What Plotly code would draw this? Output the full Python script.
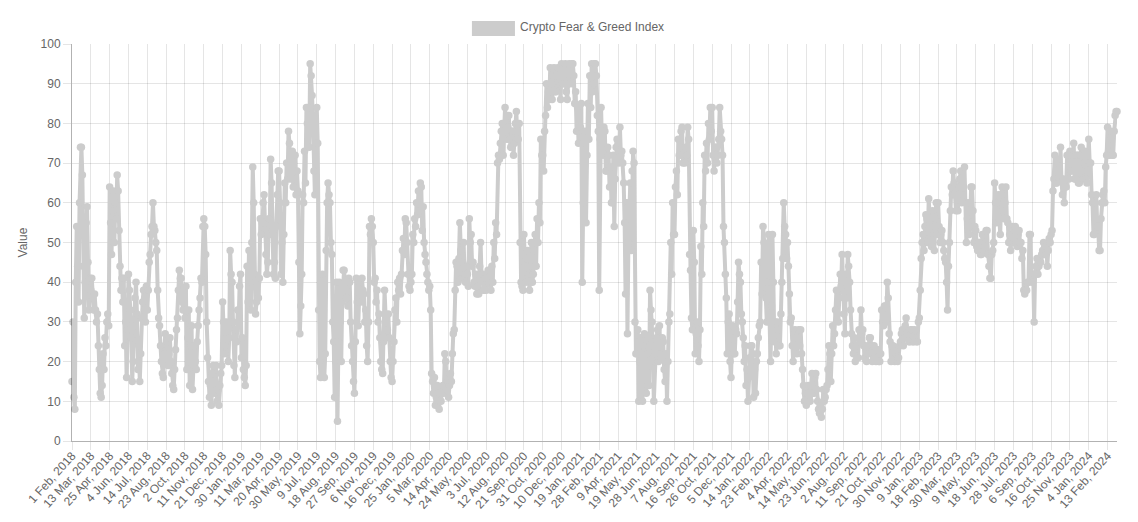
import plotly.graph_objects as go

# tick labels, one every 40 data points
tick_labels = [
    '1 Feb, 2018', '13 Mar, 2018', '25 Apr, 2018', '4 Jun, 2018', '14 Jul, 2018', '23 Aug, 2018',
    '2 Oct, 2018', '11 Nov, 2018', '21 Dec, 2018', '30 Jan, 2019', '11 Mar, 2019', '20 Apr, 2019',
    '30 May, 2019', '9 Jul, 2019', '18 Aug, 2019', '27 Sep, 2019', '6 Nov, 2019', '16 Dec, 2019',
    '25 Jan, 2020', '5 Mar, 2020', '14 Apr, 2020', '24 May, 2020', '3 Jul, 2020', '12 Aug, 2020',
    '21 Sep, 2020', '31 Oct, 2020', '10 Dec, 2020', '19 Jan, 2021', '28 Feb, 2021', '9 Apr, 2021',
    '19 May, 2021', '28 Jun, 2021', '7 Aug, 2021', '16 Sep, 2021', '26 Oct, 2021', '5 Dec, 2021',
    '14 Jan, 2022', '23 Feb, 2022', '4 Apr, 2022', '14 May, 2022', '23 Jun, 2022', '2 Aug, 2022',
    '11 Sep, 2022', '21 Oct, 2022', '30 Nov, 2022', '9 Jan, 2023', '18 Feb, 2023', '30 Mar, 2023',
    '9 May, 2023', '18 Jun, 2023', '28 Jul, 2023', '6 Sep, 2023', '16 Oct, 2023', '25 Nov, 2023',
    '4 Jan, 2024', '13 Feb, 2024',
]

# index values, one row per tick interval
values = [
    15, 30, 11, 8, 40, 54, 44, 35, 60, 74, 74, 67, 44, 31, 40, 55, 59, 45, 33, 41,
    38, 41, 36, 33, 37, 33, 30, 32, 24, 18, 12, 11, 14, 22, 18, 26, 24, 30, 32, 29,
    64, 55, 47, 58, 63, 50, 60, 56, 67, 63, 53, 44, 38, 41, 35, 41, 24, 30, 16, 28,
    42, 38, 33, 26, 15, 20, 29, 36, 40, 32, 18, 24, 15, 22, 31, 35, 38, 33, 30, 39,
    33, 38, 45, 47, 52, 54, 60, 54, 53, 50, 48, 38, 31, 29, 24, 20, 17, 16, 22, 27,
    21, 25, 19, 22, 26, 20, 17, 14, 13, 18, 23, 28, 31, 38, 43, 41, 41, 35, 33, 38,
    31, 39, 18, 26, 33, 14, 24, 29, 13, 18, 24, 20, 18, 25, 29, 33, 36, 41, 40, 54,
    56, 54, 47, 30, 21, 15, 11, 14, 9, 17, 19, 12, 15, 19, 10, 13, 9, 14, 17, 19,
    35, 30, 22, 24, 30, 27, 20, 26, 48, 42, 40, 30, 19, 16, 28, 25, 33, 30, 39, 42,
    21, 26, 18, 16, 14, 19, 44, 35, 48, 40, 33, 50, 69, 60, 42, 32, 35, 40, 36, 41,
    56, 52, 55, 60, 62, 55, 47, 42, 45, 56, 52, 71, 65, 53, 42, 45, 41, 54, 62, 68,
    68, 60, 42, 50, 40, 52, 65, 60, 70, 66, 78, 75, 66, 70, 73, 64, 66, 72, 62, 68,
    63, 45, 27, 34, 42, 62, 60, 73, 65, 84, 80, 84, 74, 95, 92, 87, 80, 68, 62, 75,
    84, 75, 33, 20, 16, 30, 42, 33, 16, 22, 48, 60, 65, 62, 60, 50, 47, 30, 25, 11,
    20, 40, 5, 25, 40, 30, 20, 35, 43, 43, 40, 38, 36, 34, 41, 40, 30, 24, 20, 15,
    12, 25, 41, 35, 29, 36, 40, 35, 41, 38, 37, 30, 33, 24, 20, 30, 54, 52, 56, 54,
    50, 40, 41, 35, 38, 30, 32, 26, 20, 18, 17, 25, 38, 32, 26, 28, 32, 26, 20, 16,
    15, 20, 25, 33, 36, 30, 40, 38, 41, 37, 42, 48, 51, 47, 56, 55, 50, 42, 39, 38,
    40, 42, 52, 50, 56, 54, 60, 57, 63, 58, 65, 64, 53, 59, 50, 47, 45, 42, 40, 38,
    39, 33, 17, 15, 12, 16, 9, 11, 14, 10, 8, 12, 10, 13, 14, 12, 22, 20, 13, 15,
    11, 14, 17, 15, 22, 27, 28, 38, 45, 44, 40, 46, 55, 48, 41, 45, 50, 42, 40, 44,
    42, 39, 56, 50, 52, 44, 45, 40, 39, 42, 37, 39, 37, 44, 50, 42, 42, 38, 38, 41,
    38, 40, 43, 40, 41, 38, 44, 40, 50, 46, 55, 52, 70, 72, 71, 75, 78, 80, 72, 76,
    84, 80, 76, 79, 82, 76, 74, 78, 78, 72, 75, 80, 83, 76, 76, 80, 50, 40, 39, 38,
    52, 45, 40, 46, 48, 42, 38, 44, 50, 40, 42, 48, 52, 44, 56, 50, 60, 55, 76, 72,
    72, 68, 78, 82, 90, 84, 88, 86, 94, 90, 86, 92, 94, 88, 88, 92, 94, 90, 90, 86,
    95, 90, 90, 94, 95, 88, 86, 90, 95, 92, 90, 95, 95, 92, 85, 88, 78, 84, 75, 78,
    79, 85, 40, 60, 75, 78, 55, 72, 85, 76, 92, 84, 95, 88, 90, 95, 95, 92, 82, 78,
    38, 76, 84, 74, 72, 79, 78, 68, 68, 74, 72, 64, 69, 60, 60, 72, 54, 66, 74, 76,
    75, 70, 79, 72, 73, 70, 65, 55, 37, 60, 27, 50, 60, 65, 48, 68, 73, 70, 30, 22,
    22, 28, 10, 20, 26, 14, 10, 24, 27, 18, 12, 22, 26, 14, 38, 33, 30, 24, 10, 20,
    22, 26, 28, 20, 29, 22, 21, 26, 25, 18, 15, 22, 10, 20, 30, 32, 50, 42, 60, 52,
    52, 64, 68, 62, 76, 72, 72, 78, 79, 70, 73, 70, 74, 72, 79, 76, 47, 43, 31, 28,
    53, 45, 22, 27, 30, 24, 20, 28, 49, 42, 60, 54, 72, 68, 75, 70, 80, 76, 84, 78,
    84, 72, 68, 74, 74, 70, 72, 76, 84, 78, 76, 72, 54, 50, 42, 36, 22, 30, 32, 20,
    16, 24, 29, 22, 22, 28, 27, 35, 45, 42, 40, 32, 30, 26, 20, 24, 14, 18, 10, 16,
    21, 24, 24, 22, 11, 18, 12, 20, 22, 26, 29, 30, 45, 37, 54, 50, 48, 36, 30, 40,
    52, 30, 20, 34, 52, 40, 25, 30, 22, 30, 28, 24, 24, 32, 40, 46, 60, 54, 52, 46,
    50, 44, 37, 30, 31, 24, 20, 26, 28, 24, 22, 26, 28, 24, 28, 22, 18, 14, 10, 12,
    9, 12, 14, 11, 10, 14, 17, 12, 12, 16, 17, 13, 10, 8, 7, 9, 6, 8, 13, 10,
    11, 13, 14, 18, 24, 22, 15, 22, 29, 24, 27, 33, 38, 32, 30, 36, 42, 39, 47, 40,
    32, 27, 42, 36, 47, 44, 40, 33, 27, 24, 22, 26, 20, 24, 24, 21, 28, 25, 33, 27,
    28, 24, 21, 24, 20, 22, 22, 26, 26, 24, 20, 22, 24, 21, 20, 23, 23, 20, 20, 22,
    33, 30, 29, 34, 34, 30, 40, 36, 27, 25, 20, 24, 24, 21, 20, 22, 23, 20, 21, 24,
    25, 27, 28, 24, 26, 29, 31, 27, 27, 25, 25, 28, 28, 25, 25, 28, 26, 25, 25, 30,
    31, 38, 46, 50, 52, 48, 54, 57, 56, 50, 61, 54, 52, 49, 58, 52, 48, 56, 60, 52,
    60, 54, 50, 52, 53, 50, 48, 46, 45, 40, 33, 44, 50, 58, 64, 62, 68, 65, 62, 58,
    62, 58, 64, 66, 68, 60, 62, 64, 69, 60, 50, 56, 60, 52, 55, 64, 64, 58, 50, 54,
    53, 49, 48, 50, 50, 47, 47, 52, 52, 48, 49, 53, 53, 47, 44, 41, 41, 47, 48, 50,
    65, 60, 55, 60, 62, 56, 52, 62, 64, 58, 56, 60, 64, 56, 55, 50, 52, 48, 50, 54,
    50, 53, 54, 50, 49, 52, 53, 50, 50, 46, 48, 38, 37, 38, 38, 40, 40, 52, 52, 42,
    40, 42, 30, 42, 44, 46, 42, 44, 46, 45, 47, 48, 50, 47, 47, 49, 44, 48, 51, 50,
    52, 53, 63, 66, 72, 65, 65, 70, 71, 66, 74, 66, 62, 66, 60, 65, 64, 72, 72, 66,
    73, 68, 68, 72, 75, 66, 66, 72, 72, 65, 65, 72, 74, 68, 66, 70, 73, 66, 65, 70,
    76, 70, 70, 62, 60, 52, 52, 60, 62, 54, 54, 48, 48, 56, 60, 62, 63, 60, 69, 72,
    79, 73, 72, 78, 76, 72, 72, 78, 82, 83, 83,
]

points_per_tick = 40
points_per_value = 2  # values above are every 2nd data point

W, H = 1138, 522
plot_left, plot_right, plot_top, plot_bottom = 72.3, 1116.7, 43.5, 441.3
font_color = '#666666'
grey = 'rgb(204,204,204)'
grid = 'rgba(0,0,0,0.1)'
axis_line = 'rgba(0,0,0,0.3)'

x_index = [i * points_per_value for i in range(len(values))]
tick_index = [i * points_per_tick for i in range(len(tick_labels))]

fig = go.Figure()
fig.add_trace(go.Scatter(
    x=x_index,
    y=values,
    mode='lines+markers',
    name='Crypto Fear & Greed Index',
    line=dict(color=grey, width=4),
    marker=dict(color=grey, size=7.5),
    cliponaxis=False,
    showlegend=False,
))

fig.update_layout(
    width=W,
    height=H,
    autosize=False,
    paper_bgcolor='white',
    plot_bgcolor='white',
    margin=dict(l=plot_left, r=W - plot_right, t=plot_top, b=H - plot_bottom, pad=0),
    font=dict(family='Liberation Sans, Arial, sans-serif', size=12, color=font_color),
    xaxis=dict(
        range=[0, x_index[-1]],
        automargin=False,
        tickmode='array',
        tickvals=tick_index,
        ticktext=tick_labels,
        tickangle=-48,
        ticks='outside',
        ticklen=8,
        ticklabelstandoff=-6,
        tickcolor=grid,
        showgrid=True,
        gridcolor=grid,
        gridwidth=1,
        zeroline=False,
        showline=True,
        linecolor=axis_line,
        linewidth=1,
    ),
    yaxis=dict(
        range=[0, 100],
        automargin=False,
        tick0=0,
        dtick=10,
        ticks='outside',
        ticklen=8,
        tickcolor=grid,
        showgrid=True,
        gridcolor=grid,
        gridwidth=1,
        zeroline=False,
        showline=True,
        linecolor=axis_line,
        linewidth=1,
        title=dict(text='Value', font=dict(size=12, color=font_color), standoff=10),
    ),
    # legend box and label, placed as in the reference
    shapes=[dict(
        type='rect', xref='paper', yref='paper',
        x0=(472 - plot_left) / (plot_right - plot_left),
        x1=(515 - plot_left) / (plot_right - plot_left),
        y0=(plot_bottom - 35.5) / (plot_bottom - plot_top),
        y1=(plot_bottom - 20.5) / (plot_bottom - plot_top),
        fillcolor=grey, line=dict(width=0),
    )],
    annotations=[dict(
        text='Crypto Fear & Greed Index',
        xref='paper', yref='paper',
        x=(518.5 - plot_left) / (plot_right - plot_left),
        y=(plot_bottom - 26.5) / (plot_bottom - plot_top),
        xanchor='left', yanchor='middle',
        showarrow=False, font=dict(size=12, color=font_color),
    )],
)

fig.write_html("out.html", config=dict(displayModeBar=False),
               post_script="document.body.style.margin='0';")
